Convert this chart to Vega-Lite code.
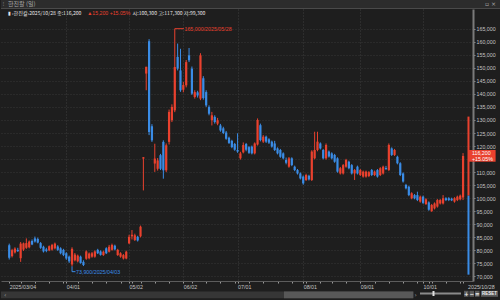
{
"$schema":"https://vega.github.io/schema/vega-lite/v6.json",
"background":"#1e1e1e",
"padding":0,
"spacing":0,
"config":{"view":{"stroke":null},"font":"Liberation Sans"},
"datasets":{"k":[
{"d":"2025-03-04","i":0,"o":82000,"h":82600,"l":76500,"c":77200},
{"d":"2025-03-05","i":1,"o":77800,"h":80600,"l":77300,"c":80100},
{"d":"2025-03-06","i":2,"o":79200,"h":81200,"l":78800,"c":80700},
{"d":"2025-03-07","i":3,"o":80200,"h":81000,"l":79400,"c":79700},
{"d":"2025-03-10","i":4,"o":77000,"h":83200,"l":75600,"c":82600},
{"d":"2025-03-11","i":5,"o":80300,"h":83000,"l":79800,"c":82700},
{"d":"2025-03-12","i":6,"o":81000,"h":84600,"l":80600,"c":82800},
{"d":"2025-03-13","i":7,"o":81200,"h":83800,"l":80800,"c":83400},
{"d":"2025-03-14","i":8,"o":83600,"h":84200,"l":82000,"c":82300},
{"d":"2025-03-17","i":9,"o":84600,"h":85300,"l":83000,"c":83400},
{"d":"2025-03-18","i":10,"o":84400,"h":84900,"l":82700,"c":83000},
{"d":"2025-03-19","i":11,"o":82800,"h":83200,"l":80600,"c":81000},
{"d":"2025-03-20","i":12,"o":81400,"h":81800,"l":79200,"c":79600},
{"d":"2025-03-21","i":13,"o":80400,"h":81000,"l":79300,"c":79800},
{"d":"2025-03-24","i":14,"o":80000,"h":81900,"l":79700,"c":81600},
{"d":"2025-03-25","i":15,"o":80300,"h":82500,"l":79900,"c":82100},
{"d":"2025-03-26","i":16,"o":80800,"h":83000,"l":80400,"c":82600},
{"d":"2025-03-27","i":17,"o":81500,"h":82000,"l":79800,"c":80200},
{"d":"2025-03-28","i":18,"o":80800,"h":81200,"l":78500,"c":78900},
{"d":"2025-03-31","i":19,"o":80200,"h":80600,"l":77800,"c":78200},
{"d":"2025-04-01","i":20,"o":78900,"h":79300,"l":76400,"c":76900},
{"d":"2025-04-02","i":21,"o":77600,"h":78000,"l":75200,"c":75800},
{"d":"2025-04-03","i":22,"o":74600,"h":81200,"l":73900,"c":80600},
{"d":"2025-04-04","i":23,"o":76200,"h":79000,"l":75800,"c":78400},
{"d":"2025-04-07","i":24,"o":75800,"h":78400,"l":75400,"c":78000},
{"d":"2025-04-08","i":25,"o":77600,"h":78000,"l":74900,"c":75200},
{"d":"2025-04-09","i":26,"o":75600,"h":76200,"l":74000,"c":74400},
{"d":"2025-04-10","i":27,"o":76800,"h":80000,"l":76400,"c":79600},
{"d":"2025-04-11","i":28,"o":77000,"h":79200,"l":76600,"c":78800},
{"d":"2025-04-14","i":29,"o":77600,"h":79400,"l":77200,"c":78900},
{"d":"2025-04-15","i":30,"o":77600,"h":80000,"l":77200,"c":79600},
{"d":"2025-04-16","i":31,"o":80200,"h":80600,"l":78600,"c":78900},
{"d":"2025-04-17","i":32,"o":79600,"h":80000,"l":78000,"c":78300},
{"d":"2025-04-18","i":33,"o":78200,"h":79900,"l":77900,"c":79500},
{"d":"2025-04-21","i":34,"o":80800,"h":81200,"l":78600,"c":78900},
{"d":"2025-04-22","i":35,"o":79500,"h":82100,"l":79200,"c":81400},
{"d":"2025-04-23","i":36,"o":80200,"h":82600,"l":79900,"c":82100},
{"d":"2025-04-24","i":37,"o":81800,"h":82200,"l":80000,"c":80400},
{"d":"2025-04-25","i":38,"o":78200,"h":80600,"l":77900,"c":80200},
{"d":"2025-04-28","i":39,"o":77600,"h":79300,"l":77200,"c":78900},
{"d":"2025-04-29","i":40,"o":76900,"h":78600,"l":76500,"c":78200},
{"d":"2025-04-30","i":41,"o":76900,"h":79900,"l":76600,"c":79500},
{"d":"2025-05-02","i":42,"o":82700,"h":86000,"l":82400,"c":85200},
{"d":"2025-05-07","i":43,"o":85400,"h":87800,"l":84200,"c":86000},
{"d":"2025-05-08","i":44,"o":84000,"h":86400,"l":83600,"c":85800},
{"d":"2025-05-09","i":45,"o":85200,"h":85600,"l":83400,"c":83800},
{"d":"2025-05-12","i":46,"o":85400,"h":89500,"l":85000,"c":89100},
{"d":"2025-05-13","i":47,"o":115200,"h":115800,"l":103000,"c":115700},
{"d":"2025-05-14","i":48,"o":147800,"h":150400,"l":141400,"c":150400},
{"d":"2025-05-15","i":49,"o":160200,"h":161000,"l":124200,"c":125400},
{"d":"2025-05-16","i":50,"o":127600,"h":128400,"l":121600,"c":122200},
{"d":"2025-05-19","i":51,"o":113300,"h":120900,"l":110100,"c":115200},
{"d":"2025-05-20","i":52,"o":111300,"h":115400,"l":110600,"c":114500},
{"d":"2025-05-21","i":53,"o":116500,"h":117000,"l":110800,"c":111300},
{"d":"2025-05-22","i":54,"o":121600,"h":122200,"l":107500,"c":110700},
{"d":"2025-05-23","i":55,"o":110700,"h":121000,"l":110000,"c":120300},
{"d":"2025-05-26","i":56,"o":121600,"h":134000,"l":120600,"c":133100},
{"d":"2025-05-27","i":57,"o":129900,"h":136000,"l":129200,"c":135000},
{"d":"2025-05-28","i":58,"o":133700,"h":165000,"l":133000,"c":150300},
{"d":"2025-05-29","i":59,"o":154200,"h":159300,"l":149000,"c":149700},
{"d":"2025-05-30","i":60,"o":149000,"h":157300,"l":140800,"c":141400},
{"d":"2025-06-02","i":61,"o":141600,"h":144600,"l":140600,"c":143400},
{"d":"2025-06-04","i":62,"o":143300,"h":153000,"l":142500,"c":152200},
{"d":"2025-06-05","i":63,"o":154800,"h":157600,"l":152200,"c":152900},
{"d":"2025-06-09","i":64,"o":149700,"h":150500,"l":139600,"c":140100},
{"d":"2025-06-10","i":65,"o":138800,"h":141400,"l":138200,"c":140700},
{"d":"2025-06-11","i":66,"o":140600,"h":141200,"l":138600,"c":139400},
{"d":"2025-06-12","i":67,"o":138200,"h":155600,"l":137600,"c":154800},
{"d":"2025-06-13","i":68,"o":146000,"h":146800,"l":137800,"c":138400},
{"d":"2025-06-16","i":69,"o":140700,"h":141400,"l":135000,"c":135600},
{"d":"2025-06-17","i":70,"o":135000,"h":135600,"l":131800,"c":132400},
{"d":"2025-06-18","i":71,"o":129900,"h":133100,"l":127900,"c":131800},
{"d":"2025-06-19","i":72,"o":131200,"h":131800,"l":128600,"c":129200},
{"d":"2025-06-20","i":73,"o":128600,"h":130800,"l":128000,"c":129900},
{"d":"2025-06-23","i":74,"o":127900,"h":128500,"l":125500,"c":126000},
{"d":"2025-06-24","i":75,"o":126800,"h":127400,"l":124600,"c":125000},
{"d":"2025-06-25","i":76,"o":125200,"h":125800,"l":122400,"c":122800},
{"d":"2025-06-26","i":77,"o":123200,"h":123600,"l":120800,"c":121200},
{"d":"2025-06-27","i":78,"o":122000,"h":122400,"l":119200,"c":119600},
{"d":"2025-06-30","i":79,"o":120800,"h":121200,"l":118200,"c":118600},
{"d":"2025-07-01","i":80,"o":118500,"h":124900,"l":117400,"c":117900},
{"d":"2025-07-02","i":81,"o":115300,"h":117800,"l":114800,"c":117200},
{"d":"2025-07-03","i":82,"o":117600,"h":121400,"l":117200,"c":120400},
{"d":"2025-07-04","i":83,"o":120800,"h":121200,"l":118000,"c":118600},
{"d":"2025-07-07","i":84,"o":119600,"h":120000,"l":117000,"c":117400},
{"d":"2025-07-08","i":85,"o":119800,"h":120200,"l":116800,"c":117200},
{"d":"2025-07-09","i":86,"o":117200,"h":121400,"l":116800,"c":121000},
{"d":"2025-07-10","i":87,"o":120600,"h":130600,"l":120200,"c":130000},
{"d":"2025-07-11","i":88,"o":128000,"h":128600,"l":121800,"c":122300},
{"d":"2025-07-14","i":89,"o":121700,"h":124200,"l":121200,"c":123600},
{"d":"2025-07-15","i":90,"o":123600,"h":124000,"l":121200,"c":121700},
{"d":"2025-07-16","i":91,"o":122600,"h":123000,"l":120800,"c":121300},
{"d":"2025-07-17","i":92,"o":121700,"h":122100,"l":119400,"c":119800},
{"d":"2025-07-18","i":93,"o":121000,"h":122000,"l":118100,"c":118500},
{"d":"2025-07-21","i":94,"o":119100,"h":119500,"l":116800,"c":117200},
{"d":"2025-07-22","i":95,"o":118500,"h":118900,"l":115500,"c":115900},
{"d":"2025-07-23","i":96,"o":117200,"h":117600,"l":114900,"c":115300},
{"d":"2025-07-24","i":97,"o":114700,"h":115600,"l":113000,"c":113600},
{"d":"2025-07-25","i":98,"o":112100,"h":115800,"l":111700,"c":115300},
{"d":"2025-07-28","i":99,"o":115300,"h":115700,"l":112300,"c":112700},
{"d":"2025-07-29","i":100,"o":112100,"h":112500,"l":110400,"c":110800},
{"d":"2025-07-30","i":101,"o":110800,"h":111200,"l":109100,"c":109500},
{"d":"2025-07-31","i":102,"o":109500,"h":109900,"l":107200,"c":107600},
{"d":"2025-08-01","i":103,"o":108300,"h":108700,"l":105200,"c":105700},
{"d":"2025-08-04","i":104,"o":107000,"h":109400,"l":106600,"c":108900},
{"d":"2025-08-05","i":105,"o":108600,"h":109000,"l":106800,"c":107200},
{"d":"2025-08-06","i":106,"o":107000,"h":118400,"l":106600,"c":117900},
{"d":"2025-08-07","i":107,"o":115300,"h":125500,"l":114900,"c":118500},
{"d":"2025-08-08","i":108,"o":118500,"h":125500,"l":118000,"c":121700},
{"d":"2025-08-11","i":109,"o":121000,"h":121400,"l":118700,"c":119100},
{"d":"2025-08-12","i":110,"o":118500,"h":118900,"l":114900,"c":115300},
{"d":"2025-08-13","i":111,"o":115300,"h":121000,"l":114800,"c":120400},
{"d":"2025-08-14","i":112,"o":117900,"h":118300,"l":115600,"c":116000},
{"d":"2025-08-18","i":113,"o":117200,"h":117600,"l":114900,"c":115300},
{"d":"2025-08-19","i":114,"o":116600,"h":117000,"l":113600,"c":114000},
{"d":"2025-08-20","i":115,"o":115300,"h":115700,"l":109800,"c":110200},
{"d":"2025-08-21","i":116,"o":109500,"h":112000,"l":109100,"c":111500},
{"d":"2025-08-22","i":117,"o":109500,"h":113100,"l":109100,"c":112700},
{"d":"2025-08-25","i":118,"o":112100,"h":115100,"l":111700,"c":114700},
{"d":"2025-08-26","i":119,"o":114000,"h":114400,"l":111100,"c":111500},
{"d":"2025-08-27","i":120,"o":112700,"h":113100,"l":109100,"c":109500},
{"d":"2025-08-28","i":121,"o":109500,"h":111200,"l":107000,"c":110800},
{"d":"2025-08-29","i":122,"o":112100,"h":112500,"l":109100,"c":109500},
{"d":"2025-09-01","i":123,"o":108900,"h":111200,"l":108500,"c":110800},
{"d":"2025-09-02","i":124,"o":108300,"h":110600,"l":107900,"c":110200},
{"d":"2025-09-03","i":125,"o":108300,"h":110600,"l":107900,"c":110200},
{"d":"2025-09-04","i":126,"o":108500,"h":110400,"l":108100,"c":110000},
{"d":"2025-09-05","i":127,"o":110800,"h":111200,"l":108500,"c":108900},
{"d":"2025-09-08","i":128,"o":108900,"h":110600,"l":108500,"c":110200},
{"d":"2025-09-09","i":129,"o":110800,"h":111200,"l":107900,"c":108300},
{"d":"2025-09-10","i":130,"o":108900,"h":111900,"l":108500,"c":111500},
{"d":"2025-09-11","i":131,"o":109500,"h":112500,"l":109100,"c":112100},
{"d":"2025-09-12","i":132,"o":111600,"h":112400,"l":110800,"c":111200},
{"d":"2025-09-15","i":133,"o":110800,"h":121000,"l":110400,"c":120400},
{"d":"2025-09-16","i":134,"o":119100,"h":119500,"l":116200,"c":116600},
{"d":"2025-09-17","i":135,"o":116600,"h":118900,"l":116200,"c":118500},
{"d":"2025-09-18","i":136,"o":115900,"h":116300,"l":113000,"c":113400},
{"d":"2025-09-19","i":137,"o":113400,"h":113800,"l":108500,"c":108900},
{"d":"2025-09-22","i":138,"o":109500,"h":109900,"l":106000,"c":106400},
{"d":"2025-09-23","i":139,"o":105100,"h":105500,"l":103400,"c":103800},
{"d":"2025-09-24","i":140,"o":104400,"h":104800,"l":100800,"c":101200},
{"d":"2025-09-25","i":141,"o":100000,"h":102300,"l":99600,"c":101900},
{"d":"2025-09-26","i":142,"o":101200,"h":101600,"l":99600,"c":100000},
{"d":"2025-09-29","i":143,"o":101200,"h":102500,"l":98900,"c":99300},
{"d":"2025-09-30","i":144,"o":98700,"h":101000,"l":98300,"c":100600},
{"d":"2025-10-01","i":145,"o":100600,"h":101000,"l":97800,"c":98200},
{"d":"2025-10-02","i":146,"o":97800,"h":100000,"l":97400,"c":99600},
{"d":"2025-10-10","i":147,"o":98400,"h":98800,"l":95200,"c":95600},
{"d":"2025-10-13","i":148,"o":95000,"h":97800,"l":94800,"c":97400},
{"d":"2025-10-14","i":149,"o":96100,"h":98400,"l":95700,"c":98000},
{"d":"2025-10-15","i":150,"o":96800,"h":99700,"l":96400,"c":99300},
{"d":"2025-10-16","i":151,"o":98000,"h":99700,"l":97600,"c":99300},
{"d":"2025-10-17","i":152,"o":98000,"h":101200,"l":97600,"c":100000},
{"d":"2025-10-20","i":153,"o":100000,"h":100400,"l":98900,"c":99300},
{"d":"2025-10-21","i":154,"o":100000,"h":100400,"l":98900,"c":99300},
{"d":"2025-10-22","i":155,"o":99800,"h":100200,"l":98900,"c":99200},
{"d":"2025-10-23","i":156,"o":98700,"h":100400,"l":98300,"c":100000},
{"d":"2025-10-24","i":157,"o":99300,"h":101000,"l":98900,"c":100600},
{"d":"2025-10-27","i":158,"o":99600,"h":101400,"l":99200,"c":101000},
{"d":"2025-10-28","i":159,"o":100300,"h":117300,"l":99300,"c":116200}
]},
"vconcat":[
{
"width":500,"height":9,
"data":{"values":[{}]},
"view":{"fill":"#2c2c2c","stroke":null},
"layer":[
{"mark":{"type":"rule","color":"#4a4a4a","strokeWidth":1},
 "encoding":{"x":{"datum":0,"type":"quantitative","scale":{"domain":[0,500]},"axis":null},"x2":{"datum":500},"y":{"datum":0.5,"type":"quantitative","scale":{"domain":[0,9]},"axis":null}}},
{"mark":{"type":"text","align":"left","baseline":"middle","font":"DejaVu Sans","fontSize":6,"color":"#8a8a8a"},
 "encoding":{"x":{"datum":1.5,"type":"quantitative","scale":{"domain":[0,500]},"axis":null},"y":{"datum":4.6,"type":"quantitative","scale":{"domain":[0,9]},"axis":null},"text":{"value":"⁝"}}},
{"mark":{"type":"text","align":"left","baseline":"middle","font":"Noto Sans CJK KR","fontSize":6,"color":"#a8a8a8"},
 "encoding":{"x":{"datum":7,"type":"quantitative","scale":{"domain":[0,500]},"axis":null},"y":{"datum":4.6,"type":"quantitative","scale":{"domain":[0,9]},"axis":null},"text":{"value":"한진칼 (일)"}}},
{"mark":{"type":"text","align":"left","baseline":"middle","font":"DejaVu Sans","fontSize":6,"color":"#a8a8a8"},
 "encoding":{"x":{"datum":484,"type":"quantitative","scale":{"domain":[0,500]},"axis":null},"y":{"datum":4.6,"type":"quantitative","scale":{"domain":[0,9]},"axis":null},"text":{"value":"▫ ×"}}}
]
},
{
"width":472,"height":272,
"data":{"values":[{}]},
"layer":[
{"data":{"name":"k"},
 "mark":{"type":"rule","strokeWidth":1},
 "encoding":{
  "x":{"field":"i","type":"quantitative","scale":{"domain":[-1.13,160.73],"nice":false,"zero":false},
   "axis":{"orient":"bottom","title":null,"tickCount":200,"values":[0,4,9,14,19,20,24,29,34,39,42,43,46,51,56,61,64,69,74,79,80,84,89,94,99,103,104,109,113,118,123,128,133,138,143,145,147,148,153,158,159],
    "labelExpr":"datum.value==0?'2025/03/04':datum.value==20?'04/01':datum.value==42?'05/02':datum.value==61?'06/02':datum.value==80?'07/01':datum.value==103?'08/01':datum.value==123?'09/01':datum.value==145?'10/01':datum.value==159?'2025/10/28':''",
    "labelAlign":"left","labelBaseline":"top","labelPadding":1,"labelFontSize":5.3,"labelColor":"#c4c4c4","labelOverlap":false,"labelFont":"Liberation Sans",
    "labelOffset":{"condition":{"test":"datum.value==159","value":4.5},"value":0},
    "tickSize":2,"tickColor":"#9a9a9a","domainColor":"#5c5c5c","domainWidth":1,
    "grid":true,"gridColor":"#3c3c3c","gridDash":[1,2],
    "gridOpacity":{"condition":{"test":"indexof([20,42,61,80,103,123,145],datum.value)>=0","value":1},"value":0},
    "minExtent":9,"maxExtent":9}},
  "y":{"field":"l","type":"quantitative","scale":{"domain":[68268,172553],"nice":false,"zero":false},
   "axis":{"orient":"right","title":null,"tickCount":200,"labelOverlap":false,"values":[70000,75000,80000,85000,90000,95000,100000,105000,110000,115000,120000,125000,130000,135000,140000,145000,150000,155000,160000,165000],
    "format":",d","labelExpr":"datum.value==115000?'':datum.label","labelFontSize":5.3,"labelColor":"#c4c4c4","labelPadding":1,"labelFont":"Liberation Sans","labelBaseline":"middle",
    "tickSize":2,"tickColor":"#8a8a8a","domainColor":"#7a7a7a","domainWidth":2,
    "grid":true,"gridColor":"#363636","gridDash":[1,2]}},
  "y2":{"field":"h"},
  "color":{"condition":{"test":"datum.c>=datum.o","value":"#e9412e"},"value":"#3a8ce6"}}},
{"data":{"name":"k"},
 "mark":{"type":"bar"},
 "encoding":{
  "x":{"field":"i","type":"quantitative"},
  "y":{"field":"o","type":"quantitative"},
  "y2":{"field":"c"},
  "size":{"value":2.2},
  "color":{"condition":{"test":"datum.c>=datum.o","value":"#e9412e"},"value":"#3a8ce6"}}},
{"mark":{"type":"rule","color":"#e9412e","strokeWidth":1},
 "encoding":{"x":{"datum":58,"type":"quantitative"},"x2":{"datum":61.2},"y":{"datum":165000,"type":"quantitative"}}},
{"mark":{"type":"text","align":"left","baseline":"middle","fontSize":5.3,"color":"#e9412e","font":"Liberation Sans"},
 "encoding":{"x":{"datum":61.4,"type":"quantitative"},"y":{"datum":165000,"type":"quantitative"},"text":{"value":"165,000/2025/05/28"}}},
{"mark":{"type":"rule","color":"#3a8ce6","strokeWidth":1},
 "encoding":{"x":{"datum":22,"type":"quantitative"},"y":{"datum":73900,"type":"quantitative"},"y2":{"datum":71850}}},
{"mark":{"type":"rule","color":"#3a8ce6","strokeWidth":1},
 "encoding":{"x":{"datum":22,"type":"quantitative"},"x2":{"datum":23.2},"y":{"datum":71850,"type":"quantitative"}}},
{"mark":{"type":"text","align":"left","baseline":"middle","fontSize":5.3,"color":"#3a8ce6","font":"Liberation Sans"},
 "encoding":{"x":{"datum":23.4,"type":"quantitative"},"y":{"datum":71850,"type":"quantitative"},"text":{"value":"73,900/2025/04/03"}}},
{"mark":{"type":"rule","color":"#e9412e","strokeWidth":2},
 "encoding":{"x":{"datum":160.9,"type":"quantitative"},"y":{"datum":101000,"type":"quantitative"},"y2":{"datum":131300}}},
{"mark":{"type":"rule","color":"#3a8ce6","strokeWidth":2},
 "encoding":{"x":{"datum":160.9,"type":"quantitative"},"y":{"datum":70700,"type":"quantitative"},"y2":{"datum":101000}}},
{"mark":{"type":"rect","color":"#e9412e"},
 "encoding":{"x":{"datum":161.1,"type":"quantitative"},"x2":{"datum":170.4},"y":{"datum":118500,"type":"quantitative"},"y2":{"datum":114000}}},
{"mark":{"type":"text","align":"left","baseline":"middle","fontSize":5.3,"color":"#ffffff","font":"Liberation Sans"},
 "encoding":{"x":{"datum":162.1,"type":"quantitative"},"y":{"datum":117350,"type":"quantitative"},"text":{"value":"116,200"}}},
{"mark":{"type":"text","align":"left","baseline":"middle","fontSize":5.3,"color":"#ffffff","font":"Liberation Sans"},
 "encoding":{"x":{"datum":162.1,"type":"quantitative"},"y":{"datum":115150,"type":"quantitative"},"text":{"value":"+15.05%"}}},
{"mark":{"type":"text","align":"left","baseline":"middle","fontSize":5.1,"color":"#e6e6e6","font":"Noto Sans CJK KR"},
 "encoding":{"x":{"datum":-0.45,"type":"quantitative"},"y":{"datum":171000,"type":"quantitative"},"text":{"value":"▮ ‹한진칼›2025/10/28 종:116,200"}}},
{"mark":{"type":"text","align":"left","baseline":"middle","fontSize":5.2,"color":"#e9412e","font":"Liberation Sans"},
 "encoding":{"x":{"datum":27.33,"type":"quantitative"},"y":{"datum":171000,"type":"quantitative"},"text":{"value":"▲15,200 +15.05%"}}},
{"mark":{"type":"text","align":"left","baseline":"middle","fontSize":5.1,"color":"#e6e6e6","font":"Noto Sans CJK KR"},
 "encoding":{"x":{"datum":43.2,"type":"quantitative"},"y":{"datum":171000,"type":"quantitative"},"text":{"value":"시:100,300 고:117,300 저:99,300"}}}
]
},
{
"width":500,"height":10,
"data":{"values":[{}]},
"layer":[
{"mark":{"type":"rect","color":"#363636"},
 "encoding":{"x":{"datum":0,"type":"quantitative","scale":{"domain":[0,500]},"axis":null},"x2":{"datum":413},"y":{"datum":1.8,"type":"quantitative","scale":{"domain":[0,10]},"axis":null},"y2":{"datum":8.4}}},
{"mark":{"type":"rect","color":"#585858"},
 "encoding":{"x":{"datum":283,"type":"quantitative","scale":{"domain":[0,500]},"axis":null},"x2":{"datum":412},"y":{"datum":1.8,"type":"quantitative","scale":{"domain":[0,10]},"axis":null},"y2":{"datum":8.4}}},
{"mark":{"type":"text","align":"left","baseline":"middle","fontSize":6,"color":"#aaaaaa","font":"DejaVu Sans"},
 "encoding":{"x":{"datum":3,"type":"quantitative","scale":{"domain":[0,500]},"axis":null},"y":{"datum":5.2,"type":"quantitative","scale":{"domain":[0,10]},"axis":null},"text":{"value":"‹"}}},
{"mark":{"type":"text","align":"left","baseline":"middle","fontSize":6,"color":"#aaaaaa","font":"DejaVu Sans"},
 "encoding":{"x":{"datum":413.5,"type":"quantitative","scale":{"domain":[0,500]},"axis":null},"y":{"datum":5.2,"type":"quantitative","scale":{"domain":[0,10]},"axis":null},"text":{"value":"›"}}},
{"mark":{"type":"rule","color":"#8a8a8a","strokeWidth":2},
 "encoding":{"x":{"datum":419,"type":"quantitative","scale":{"domain":[0,500]},"axis":null},"x2":{"datum":460},"y":{"datum":6.5,"type":"quantitative","scale":{"domain":[0,10]},"axis":null}}},
{"mark":{"type":"rect","color":"#e0e0e0"},
 "encoding":{"x":{"datum":431.5,"type":"quantitative","scale":{"domain":[0,500]},"axis":null},"x2":{"datum":433.5},"y":{"datum":4,"type":"quantitative","scale":{"domain":[0,10]},"axis":null},"y2":{"datum":9}}},
{"mark":{"type":"rect","color":"#5a5a5a"},
 "encoding":{"x":{"datum":463,"type":"quantitative","scale":{"domain":[0,500]},"axis":null},"x2":{"datum":467.5},"y":{"datum":3.2,"type":"quantitative","scale":{"domain":[0,10]},"axis":null},"y2":{"datum":9.2}}},
{"mark":{"type":"rect","color":"#5a5a5a"},
 "encoding":{"x":{"datum":468.5,"type":"quantitative","scale":{"domain":[0,500]},"axis":null},"x2":{"datum":473},"y":{"datum":3.2,"type":"quantitative","scale":{"domain":[0,10]},"axis":null},"y2":{"datum":9.2}}},
{"mark":{"type":"rect","color":"#5a5a5a"},
 "encoding":{"x":{"datum":474,"type":"quantitative","scale":{"domain":[0,500]},"axis":null},"x2":{"datum":478.5},"y":{"datum":3.2,"type":"quantitative","scale":{"domain":[0,10]},"axis":null},"y2":{"datum":9.2}}},
{"mark":{"type":"rect","color":"#5a5a5a"},
 "encoding":{"x":{"datum":480,"type":"quantitative","scale":{"domain":[0,500]},"axis":null},"x2":{"datum":497},"y":{"datum":3.2,"type":"quantitative","scale":{"domain":[0,10]},"axis":null},"y2":{"datum":9.2}}},
{"mark":{"type":"text","align":"center","baseline":"middle","fontSize":5.5,"color":"#f0f0f0","font":"DejaVu Sans","fontWeight":"bold"},
 "encoding":{"x":{"datum":465.25,"type":"quantitative","scale":{"domain":[0,500]},"axis":null},"y":{"datum":6.2,"type":"quantitative","scale":{"domain":[0,10]},"axis":null},"text":{"value":"+"}}},
{"mark":{"type":"text","align":"center","baseline":"middle","fontSize":5.5,"color":"#f0f0f0","font":"DejaVu Sans","fontWeight":"bold"},
 "encoding":{"x":{"datum":470.75,"type":"quantitative","scale":{"domain":[0,500]},"axis":null},"y":{"datum":6.2,"type":"quantitative","scale":{"domain":[0,10]},"axis":null},"text":{"value":"−"}}},
{"mark":{"type":"text","align":"center","baseline":"middle","fontSize":5.5,"color":"#f0f0f0","font":"DejaVu Sans","fontWeight":"bold"},
 "encoding":{"x":{"datum":476.25,"type":"quantitative","scale":{"domain":[0,500]},"axis":null},"y":{"datum":6.2,"type":"quantitative","scale":{"domain":[0,10]},"axis":null},"text":{"value":"="}}},
{"mark":{"type":"text","align":"center","baseline":"middle","fontSize":4.5,"color":"#f0f0f0","font":"Liberation Sans","fontWeight":"bold"},
 "encoding":{"x":{"datum":488.5,"type":"quantitative","scale":{"domain":[0,500]},"axis":null},"y":{"datum":6.2,"type":"quantitative","scale":{"domain":[0,10]},"axis":null},"text":{"value":"RESET"}}}
]
}
]
}
